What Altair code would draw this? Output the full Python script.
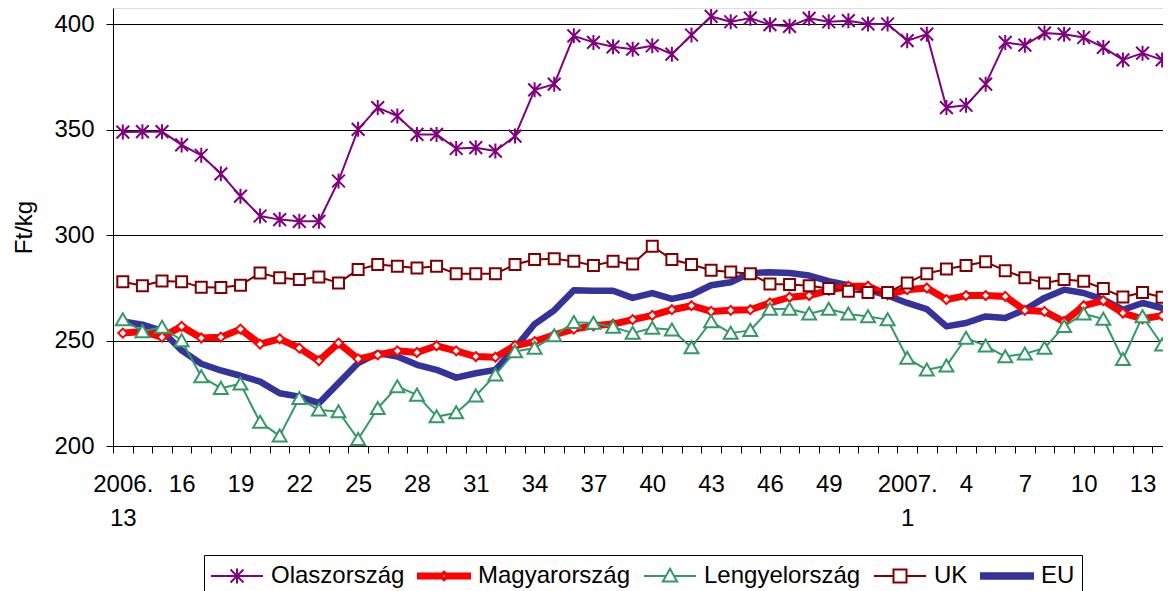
import json
import altair as alt
import pandas as pd

FONT = "Liberation Sans"

# ---- categories (weeks) ----
weeks_2006 = list(range(13, 53))   # 2006 week 13 .. 52
weeks_2007 = list(range(1, 15))    # 2007 week 1 .. 14
categories = (["2006. 13"] + [str(w) for w in weeks_2006[1:]]
              + ["2007. 1"] + [str(w) for w in weeks_2007[1:]])
shown_labels = [0, 3, 6, 9, 12, 15, 18, 21, 24, 27, 30, 33, 36, 40, 43, 46, 49, 52]
y_ticks = [200, 250, 300, 350, 400]

# ---- series (Ft/kg) ----
series_names = ["Olaszország", "Magyarország", "Lengyelország", "UK", "EU"]
series_colors = ["#800080", "#FF0000", "#339966", "#800000", "#333399"]

olasz = [348.8, 349.0, 349.0, 342.7, 337.8, 329.0, 318.4, 309.0, 307.3, 306.5,
         306.5, 325.6, 350.1, 360.4, 356.4, 347.7, 347.7, 341.0, 341.4, 339.8,
         346.9, 368.8, 371.5, 394.4, 391.3, 389.2, 388.1, 389.7, 385.7, 394.8,
         403.6, 401.1, 402.8, 399.7, 398.9, 402.7, 401.1, 401.6, 400.0, 400.0,
         392.1, 395.2, 360.4, 361.5, 371.5, 391.3, 390.0, 395.7, 395.2, 393.6,
         388.9, 383.0, 386.2, 383.0]
magyar = [253.5, 254.3, 251.6, 256.7, 251.2, 251.6, 255.4, 248.3, 250.8, 246.4,
          240.4, 248.8, 241.3, 243.2, 245.1, 244.3, 247.5, 245.1, 242.4, 242.1,
          247.6, 249.5, 252.7, 255.4, 257.0, 257.8, 259.9, 261.9, 264.6, 266.5,
          263.8, 264.3, 264.6, 267.8, 270.5, 271.3, 273.8, 275.7, 275.7, 271.7,
          274.1, 274.9, 269.4, 271.3, 271.3, 270.9, 264.3, 263.8, 259.0, 266.5,
          268.9, 263.0, 260.3, 261.8]
lengyel = [259.9, 254.3, 256.4, 250.0, 232.9, 227.4, 229.5, 211.3, 204.8, 222.6,
           217.1, 216.3, 203.2, 217.9, 228.2, 224.2, 213.9, 215.8, 223.8, 233.7,
           244.8, 246.4, 252.3, 258.6, 258.3, 256.4, 253.5, 255.9, 255.1, 246.7,
           259.0, 253.5, 254.8, 264.9, 264.9, 262.7, 264.9, 262.6, 261.4, 259.9,
           241.7, 236.1, 238.0, 251.2, 247.5, 242.4, 243.7, 246.4, 256.7, 262.7,
           260.2, 241.1, 261.4, 248.0]
uk = [277.8, 276.0, 278.2, 277.9, 275.2, 275.1, 276.2, 282.0, 279.7, 278.9,
      280.1, 277.3, 283.6, 286.0, 285.2, 284.4, 285.2, 281.6, 281.7, 281.6,
      286.0, 288.4, 288.7, 287.6, 285.5, 287.6, 286.3, 294.7, 288.4, 286.0,
      283.3, 282.5, 281.6, 276.8, 276.5, 276.0, 274.6, 273.3, 272.8, 272.8,
      277.3, 281.7, 283.9, 285.5, 287.3, 283.1, 279.7, 277.3, 278.9, 278.1,
      274.6, 270.6, 272.8, 270.5]
eu = [259.0, 257.5, 254.6, 245.3, 239.0, 235.8, 233.3, 230.5, 225.0, 223.4,
      220.3, 229.8, 239.3, 244.0, 242.4, 238.5, 236.1, 232.4, 234.5, 236.1,
      246.4, 257.8, 264.3, 273.8, 273.6, 273.6, 270.2, 272.5, 269.7, 271.7,
      276.2, 277.6, 282.0, 282.3, 282.0, 280.8, 278.1, 276.2, 274.1, 271.3,
      267.8, 264.9, 256.7, 258.3, 261.4, 260.7, 264.6, 270.2, 274.1, 272.5,
      269.4, 264.6, 267.8, 265.4]

values_by_series = dict(zip(series_names, [olasz, magyar, lengyel, uk, eu]))
rows = []
for name, vals in values_by_series.items():
    for i, v in enumerate(vals):
        rows.append({"idx": i, "series": name, "value": v, "week": categories[i]})
df = pd.DataFrame(rows)

# ---- layout ----
W, H = 1050, 438
n_cat = len(categories)
band_px = 19.61                      # pixels per week
X_DOMAIN = [-0.5, -0.5 + W / band_px]
Y_DOMAIN = [200, 407.6]

# axis label texts at category boundaries (shifted to centres with labelOffset)
label_arr = []
for b in range(n_cat + 1):
    if b in shown_labels and b < n_cat:
        t = categories[b]
        label_arr.append(t.split(" ") if " " in t else t)
    else:
        label_arr.append("")
label_expr = json.dumps(label_arr) + "[round(datum.value + 0.5)]"
boundaries = [b - 0.5 for b in range(n_cat + 1) if b - 0.5 <= X_DOMAIN[1]]

x_axis = alt.Axis(values=boundaries, title=None, grid=False, domainColor="black",
                  tickColor="black", tickSize=7, labelExpr=label_expr,
                  labelOffset=band_px / 2, labelFontSize=24, labelFont=FONT,
                  labelColor="black", labelPadding=19, labelLineHeight=34,
                  labelBaseline="top", labelAlign="center", labelAngle=0,
                  labelOverlap=False, labelBound=False, labelFlush=False)
y_axis = alt.Axis(values=y_ticks, title="Ft/kg", grid=True, gridColor="black",
                  gridWidth=1, gridOpacity=1, domainColor="black", tickColor="black",
                  tickSize=7, labelFontSize=24, labelFont=FONT, labelColor="black",
                  labelPadding=12, titleFontSize=24, titleFont=FONT,
                  titleFontWeight="normal", titleColor="black", titlePadding=17)

x_enc = alt.X("idx:Q", scale=alt.Scale(domain=X_DOMAIN, nice=False, zero=False), axis=x_axis)
y_enc = alt.Y("value:Q", scale=alt.Scale(domain=Y_DOMAIN, nice=False, zero=False), axis=y_axis)

# marker shapes
marker = {
    "Olaszország": ("M-0.85,-0.85L0.85,0.85M-0.85,0.85L0.85,-0.85M0,-1L0,1", 225),
    "Magyarország": ("M0,-1L1,0L0,1L-1,0Z", 81),
    "Lengyelország": ("M0,-1L1.1,0.9L-1.1,0.9Z", 160),
    "UK": ("M-1,-1L1,-1L1,1L-1,1Z", 121),
}
line_width = {"Olaszország": 2, "Magyarország": 7, "Lengyelország": 2, "UK": 2, "EU": 6.5}
color_of = dict(zip(series_names, series_colors))

draw_order = ["EU", "Magyarország", "Lengyelország", "UK", "Olaszország"]
layers = []
for s in draw_order:
    base = alt.Chart(df).transform_filter(alt.datum.series == s)
    layers.append(base.mark_line(color=color_of[s], strokeWidth=line_width[s],
                                 strokeJoin="round", strokeCap="round")
                  .encode(x=x_enc, y=y_enc))
    if s in marker:
        path, size = marker[s]
        layers.append(base.mark_point(shape=path, size=size, filled=True, fill="white",
                                      stroke=color_of[s], strokeWidth=2, opacity=1)
                      .encode(x=x_enc, y=y_enc))

# legend symbols (line + marker) in units of r = sqrt(symbolSize)/2
legend_paths = [
    "M-2,0L2,0M-0.5,-0.5L0.5,0.5M-0.5,0.5L0.5,-0.5M0,-0.58L0,0.58",
    "M-2,-0.2L-0.28,-0.2L-0.28,0.2L-2,0.2Z M0.28,-0.2L2,-0.2L2,0.2L0.28,0.2Z "
    "M0,-0.34L0.34,0L0,0.34L-0.34,0Z M0,-0.19L-0.19,0L0,0.19L0.19,0Z",
    "M-2,0L-0.31,0M0.31,0L2,0M0,-0.55L0.55,0.42L-0.55,0.42Z",
    "M-2,0L-0.5,0M0.5,0L2,0M-0.5,-0.5L0.5,-0.5L0.5,0.5L-0.5,0.5Z",
    "M-2,-0.21L2,-0.21L2,0.21L-2,0.21Z",
]
legend_fills = ["#800080", "#FF0000", "white", "white", "#333399"]

legend = alt.Legend(orient="none", legendX=91, legendY=547, direction="horizontal",
                    columns=5, title=None, symbolSize=676, symbolStrokeWidth=2,
                    symbolOffset=12, labelOffset=20, columnPadding=9, padding=7,
                    strokeColor="black", fillColor="white", labelFont=FONT,
                    labelFontSize=24, labelColor="black", labelLimit=0)

legend_layer = alt.Chart(df).transform_filter("false").mark_point(
    filled=True, opacity=1, strokeWidth=2).encode(
    fill=alt.Fill("series:N", scale=alt.Scale(domain=series_names, range=legend_fills), legend=legend),
    stroke=alt.Stroke("series:N", scale=alt.Scale(domain=series_names, range=series_colors), legend=legend),
    shape=alt.Shape("series:N", scale=alt.Scale(domain=series_names, range=legend_paths), legend=legend),
)

chart = alt.layer(*layers, legend_layer).properties(
    width=W, height=H,
    padding={"left": 105, "top": 0, "right": 0, "bottom": 145},
    autosize=alt.AutoSizeParams(type="none"),
).configure_view(stroke=None).configure(background="white")

chart.save("out.html", embed_options={"renderer": "svg", "actions": False})
